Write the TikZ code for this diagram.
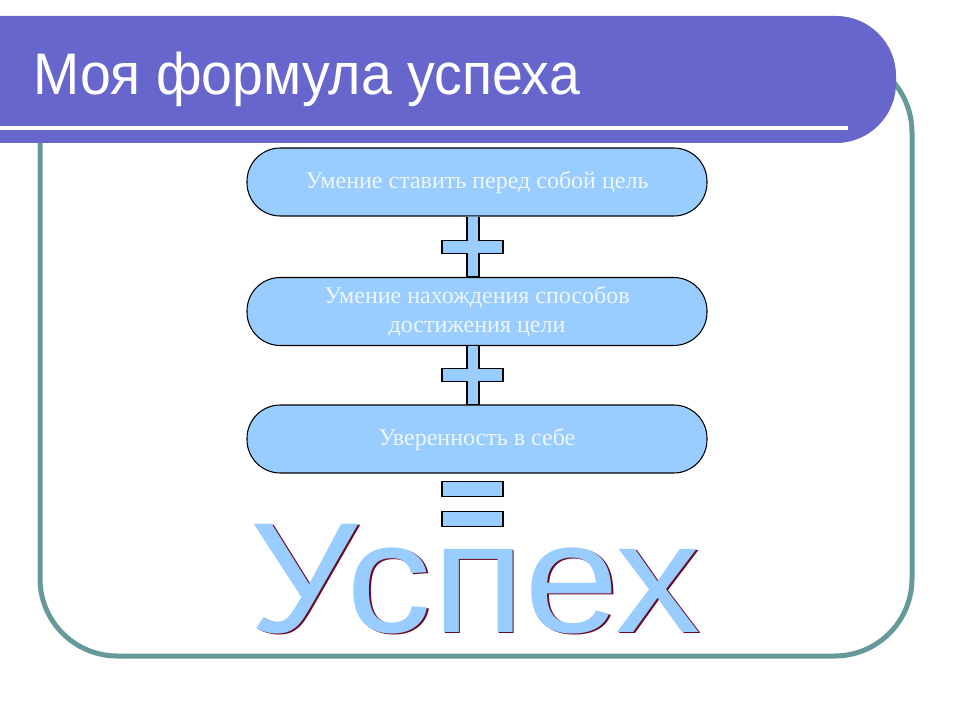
\documentclass[tikz,border=0pt]{standalone}
\usepackage{fontspec}
\setmainfont{Liberation Serif}
\newfontfamily\arialfont{Liberation Sans}
\usetikzlibrary{calc}

\definecolor{titlebar}{HTML}{6666CC}
\definecolor{framegreen}{HTML}{669999}
\definecolor{boxblue}{HTML}{99CCFF}
\definecolor{boxtext}{HTML}{EEF6FF}
\definecolor{shadowred}{HTML}{6A0A24}

\tikzset{
  stepbox/.style={draw=black, line width=0.8pt, fill=boxblue, rounded corners=25pt,
    minimum width=345pt, minimum height=51pt, align=center, text=boxtext,
    font=\fontsize{18}{22}\selectfont},
  signbar/.style={draw=black, line width=0.8pt, fill=boxblue},
  bigword/.style={anchor=base, inner sep=0pt, xscale=1.085, font=\arialfont\fontsize{118}{120}\selectfont},
}

\begin{document}
\begin{tikzpicture}[x=0.75pt,y=-0.75pt]
    \useasboundingbox (0,0) rectangle (960,720);

    \draw[framegreen, line width=3.75pt, rounded corners=58pt] (40,55) rectangle (912,656); % Frame
    \fill[titlebar, rounded corners=45pt] (-60,16) rectangle (896,143);   % Title bar
    \draw[white, line width=3pt] (-5,128) -- (848,128);
    \node[anchor=base west, inner sep=0pt, text=white, xscale=0.945,
          font=\arialfont\fontsize{44}{50}\selectfont] (title) at (33,95) {Моя формула успеха};

    \node[stepbox] (goal) at (477,182) {Умение ставить перед собой цель};
    \node[stepbox] (ways) at (477,311.5) {Умение нахождения способов\\достижения цели};
    \node[stepbox] (self) at (477,439) {Уверенность в себе};

    % Plus signs between the boxes
    \foreach \a/\b in {goal/ways, ways/self} {
        \path (\a.south) -- (\b.north) coordinate[pos=0.5] (mid);
        \draw[signbar] ($(\a.south)+(-10,0)$) -- ($(mid)+(-10,-6.5)$) -- ($(mid)+(-35,-6.5)$)
            -- ($(mid)+(-35,6.5)$) -- ($(mid)+(-10,6.5)$) -- ($(\b.north)+(-10,0)$)
            -- ($(\b.north)+(2,0)$) -- ($(mid)+(2,6.5)$) -- ($(mid)+(26,6.5)$)
            -- ($(mid)+(26,-6.5)$) -- ($(mid)+(2,-6.5)$) -- ($(\a.south)+(2,0)$);
    }

    % Equals sign
    \foreach \y in {8,38} {
        \draw[signbar] ($(self.south)+(-35,\y)$) rectangle ($(self.south)+(26,\y+15)$);
    }

    \node[bigword, text=shadowred] (shadow) at (476.7,633.2) {Успех};
    \node[bigword, text=boxblue] (result) at (475.5,632) {Успех};
\end{tikzpicture}
\end{document}
